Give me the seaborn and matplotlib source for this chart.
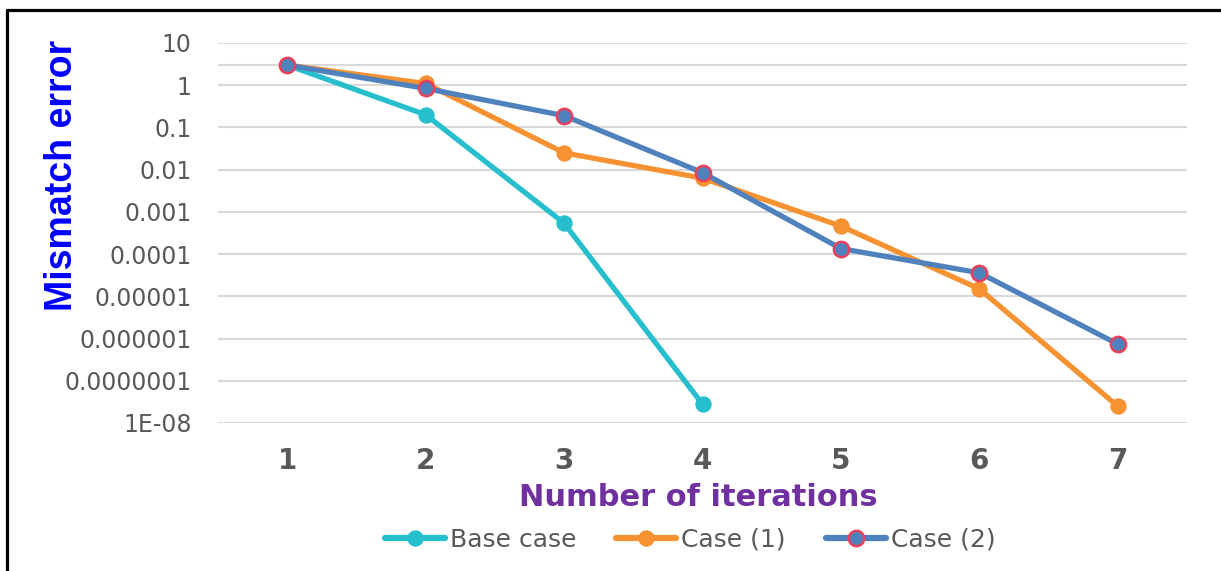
import numpy as np
import pandas as pd
import matplotlib
matplotlib.use("Agg")
import matplotlib.pyplot as plt
from matplotlib.lines import Line2D
import seaborn as sns

# values
iterations = [1, 2, 3, 4, 5, 6, 7]
base_case = [3.0, 0.2, 5.4e-4, 2.8e-8]
case_1 = [3.0, 1.1, 0.025, 0.0063, 4.6e-4, 1.5e-5, 2.5e-8]
case_2 = [3.0, 0.84, 0.19, 0.0085, 1.35e-4, 3.6e-5, 7.4e-7]

y_ticks = [1e-8, 1e-7, 1e-6, 1e-5, 1e-4, 1e-3, 1e-2, 1e-1, 1, 10]
y_tick_labels = ["1E-08", "0.0000001", "0.000001", "0.00001", "0.0001",
                 "0.001", "0.01", "0.1", "1", "10"]
extra_grid = 3.0

sns.set_theme(style="white")
plt.rcParams["font.family"] = ["DejaVu Sans"]

teal = "#27BECD"
orange = "#F79232"
blue = "#4F81BD"
red_edge = "#E8405A"
gray_txt = "#595959"

fig = plt.figure(figsize=(12.21, 5.71), dpi=100)
ax = fig.add_axes([218 / 1221, 1 - 423 / 571, (1187 - 218) / 1221, (423 - 43) / 571])

df_base = pd.DataFrame({"it": iterations[:len(base_case)], "val": base_case})
df_c1 = pd.DataFrame({"it": iterations, "val": case_1})
df_c2 = pd.DataFrame({"it": iterations, "val": case_2})

sns.lineplot(data=df_base, x="it", y="val", ax=ax, color=teal, linewidth=3.8,
             marker="o", markersize=11, markeredgecolor=teal, label="Base case")
sns.lineplot(data=df_c1, x="it", y="val", ax=ax, color=orange, linewidth=3.8,
             marker="o", markersize=11, markeredgecolor=orange, label="Case (1)")
sns.lineplot(data=df_c2, x="it", y="val", ax=ax, color=blue, linewidth=3.8,
             marker="o", markersize=11, markeredgecolor=red_edge, markeredgewidth=1.8,
             label="Case (2)")

ax.set_yscale("log")
ax.set_ylim(1e-8, 10)
ax.set_xlim(0.5, 7.5)
ax.set_yticks(y_ticks)
ax.set_yticklabels(y_tick_labels)
ax.minorticks_off()
ax.set_xticks(iterations)
ax.set_xticklabels([str(i) for i in iterations])
ax.tick_params(axis="y", length=0, pad=19, labelsize=17, labelcolor=gray_txt)
ax.tick_params(axis="x", length=0, pad=17, labelsize=20, labelcolor=gray_txt)
for lbl in ax.get_xticklabels():
    lbl.set_fontweight("bold")

for t in y_ticks + [extra_grid]:
    ax.axhline(t, color="#D9D9D9", linewidth=1.5, zorder=0)
for s in ax.spines.values():
    s.set_visible(False)
ax.set_xlabel("")
ax.set_ylabel("")
ax.get_legend().remove()

fig.text(62 / 1221, 1 - 175 / 571, "Mismatch error", rotation=90, ha="center", va="center",
         color="#0000FF", fontsize=27, fontweight="bold", family=["Liberation Sans"])
fig.text(698 / 1221, 1 - 497 / 571, "Number of iterations", ha="center", va="center",
         color="#7030A0", fontsize=22, fontweight="bold")

handles, labels = ax.get_legend_handles_labels()
leg = fig.legend(handles, labels, loc="center", bbox_to_anchor=(690 / 1221, 1 - 540 / 571),
                 ncol=3, frameon=False, fontsize=18, handlelength=2.4,
                 handletextpad=0.2, columnspacing=1.6)
for txt in leg.get_texts():
    txt.set_color(gray_txt)
for h in leg.legend_handles:
    h.set_linewidth(4.5)

# outer frame (left and top edges visible in the reference)
fig.add_artist(Line2D([7.5 / 1221, 7.5 / 1221], [0, 1 - 9.5 / 571], color="black", linewidth=2.3))
fig.add_artist(Line2D([7.5 / 1221, 1], [1 - 9.5 / 571, 1 - 9.5 / 571], color="black", linewidth=2.3))

fig.savefig("out.png", dpi=100)
